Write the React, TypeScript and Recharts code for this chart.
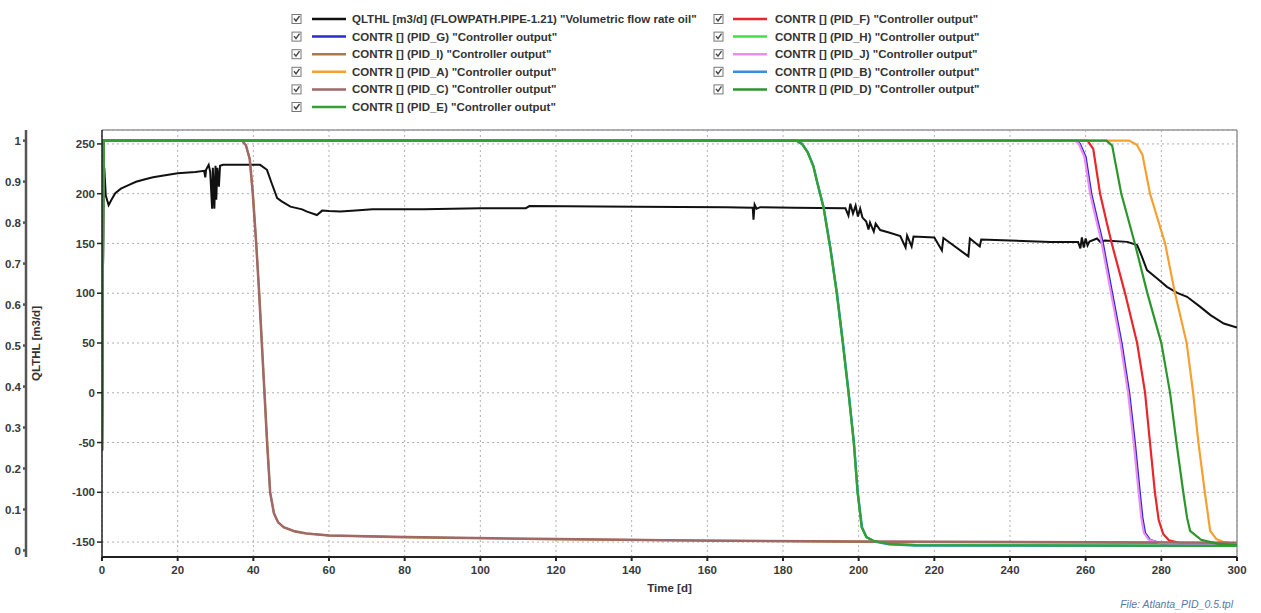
import React from "react";
import {
  LineChart,
  Line,
  XAxis,
  YAxis,
  CartesianGrid,
  ReferenceLine,
  Label,
} from "recharts";

// axis ticks
const timeTicks = [0, 20, 40, 60, 80, 100, 120, 140, 160, 180, 200, 220, 240, 260, 280, 300];
const flowTicks = [-150, -100, -50, 0, 50, 100, 150, 200, 250];
const outputTicks = [0, 0.1, 0.2, 0.3, 0.4, 0.5, 0.6, 0.7, 0.8, 0.9, 1];
const flowDomain = [-165, 264];
const outputDomain = [-0.016, 1.026];

// QLTHL [m3/d]: [time d, flow]
const qlthl: [number, number][] = [
  [0, 230], [0.3, 178], [0.6, 226], [1.0, 198], [1.75, 188.5], [2.5, 194], [3.5, 200.5],
  [5, 205], [7, 208.7], [9, 212], [11.4, 214.5], [13.5, 216.5], [15.9, 218], [20, 220.5],
  [24.7, 221.8], [27, 223], [27.3, 216.5], [27.5, 224], [28.2, 229], [28.6, 222], [29.1, 185],
  [29.3, 226], [29.7, 185], [30, 228], [30.2, 194], [30.5, 226], [30.9, 207], [31.2, 228],
  [32, 229], [36.6, 229], [41.8, 229], [43.6, 224], [44.9, 210], [46.3, 195.5], [47.6, 192],
  [49.8, 187], [52.9, 184.3], [54.2, 182], [56.8, 178.6], [58.2, 183], [60, 182.5], [63, 182],
  [67, 183], [71.5, 184.3], [85, 184.5], [100, 185.3], [112, 185.5], [113, 187.6], [141, 187],
  [165, 186.5], [172, 186], [172.2, 174], [172.5, 189], [173, 185], [174, 186.5], [183, 186],
  [196.5, 185.3], [197.3, 178], [197.8, 190], [198.5, 180], [199.2, 188], [199.8, 177],
  [200.4, 185], [201, 176], [202, 172], [202.6, 164], [203, 171], [204, 162], [204.5, 170],
  [205.7, 163.5], [208, 161], [211, 157.5], [212.4, 146], [212.8, 158], [214, 147], [214.5, 157],
  [220, 156], [222, 143], [222.4, 155.5], [229, 137], [229.4, 155], [232, 147], [232.4, 154],
  [240, 153], [250.7, 151.6], [258, 151.6], [258.6, 145], [259, 156], [259.5, 146], [260, 155],
  [260.5, 148], [261, 152], [263, 155], [264, 151], [265, 153], [271, 151.6], [273.6, 148.4],
  [274.9, 136.6], [276.2, 123.2], [278.9, 114.9], [281.5, 106.4], [284.2, 100.4], [286.8, 96.4],
  [290.3, 86.3], [293, 78], [296.5, 69.6], [300, 65.5],
];

// controller outputs (0..1)
const pidC: [number, number][] = [
  [0, 0.244], [0.4, 1], [37, 1], [38, 0.989], [39, 0.956], [39.8, 0.873], [40.7, 0.752],
  [41.5, 0.628], [42.2, 0.506], [42.9, 0.385], [43.6, 0.263], [44.4, 0.142], [45.4, 0.091],
  [46.5, 0.069], [48, 0.057], [51, 0.047], [54, 0.042], [60, 0.037], [80, 0.033], [120, 0.028],
  [160, 0.024], [200, 0.022], [300, 0.019],
];
const pidI: [number, number][] = [
  [0, 0.244], [0.4, 1], [37.1, 1], [38.1, 0.988], [39.1, 0.955], [39.9, 0.872], [40.8, 0.75],
  [41.6, 0.627], [42.3, 0.505], [43, 0.384], [43.7, 0.262], [44.5, 0.141], [45.5, 0.09],
  [46.6, 0.068], [48.1, 0.056], [51, 0.046], [54, 0.041], [60, 0.036], [80, 0.032], [120, 0.027],
  [160, 0.024], [200, 0.021], [300, 0.018],
];
const pidE: [number, number][] = [
  [0, 0.244], [0.4, 1], [183.5, 1], [185, 0.992], [186.5, 0.972], [188, 0.938], [189, 0.899],
  [190.7, 0.837], [192.5, 0.737], [194.2, 0.628], [195.8, 0.506], [197.3, 0.385], [198.7, 0.263],
  [199.7, 0.142], [200.8, 0.057], [202, 0.033], [204, 0.023], [208, 0.016], [215, 0.013], [300, 0.011],
];
const pidB: [number, number][] = [
  [0, 0.244], [0.4, 1], [183.6, 1], [185.1, 0.992], [186.6, 0.971], [188.1, 0.937], [189.1, 0.898],
  [190.8, 0.836], [192.6, 0.736], [194.3, 0.627], [195.9, 0.505], [197.4, 0.384], [198.8, 0.262],
  [199.8, 0.141], [200.9, 0.056], [202.1, 0.032], [204, 0.022], [208, 0.015], [215, 0.012], [300, 0.011],
];
const pidH: [number, number][] = [
  [0, 0.244], [0.4, 1], [183.5, 1], [185, 0.992], [186.5, 0.972], [188, 0.938], [189, 0.899],
  [190.7, 0.837], [192.5, 0.737], [194.2, 0.628], [195.8, 0.506], [197.3, 0.385], [198.7, 0.263],
  [199.7, 0.142], [200.8, 0.057], [202, 0.033], [204, 0.023], [208, 0.016], [215, 0.013], [300, 0.011],
];
const pidG: [number, number][] = [
  [0, 0.244], [0.4, 1], [257.5, 1], [258.5, 0.992], [260, 0.96], [261.5, 0.87], [263, 0.81],
  [264.5, 0.752], [267, 0.628], [269.5, 0.506], [271.5, 0.385], [273, 0.263], [274.3, 0.142],
  [275, 0.08], [275.7, 0.043], [277, 0.026], [280, 0.017], [285, 0.014], [300, 0.012],
];
const pidJ: [number, number][] = [
  [0, 0.244], [0.4, 1], [257.2, 1], [258.2, 0.992], [259.7, 0.96], [261.2, 0.87], [262.7, 0.81],
  [264.2, 0.752], [266.7, 0.628], [269.2, 0.506], [271.2, 0.385], [272.7, 0.263], [274, 0.142],
  [274.7, 0.08], [275.4, 0.043], [276.7, 0.026], [280, 0.017], [285, 0.014], [300, 0.012],
];
const pidF: [number, number][] = [
  [0, 0.244], [0.4, 1], [260.5, 1], [262, 0.98], [263.8, 0.871], [265.5, 0.803], [266.9, 0.749],
  [270.4, 0.628], [273.6, 0.506], [275.7, 0.385], [277, 0.263], [278.3, 0.142], [279.3, 0.074],
  [280.5, 0.04], [282, 0.025], [285, 0.018], [300, 0.013],
];
const pidD: [number, number][] = [
  [0, 0.244], [0.4, 1], [265.5, 1], [267, 0.988], [269.4, 0.871], [273, 0.749], [276.3, 0.628],
  [280, 0.506], [282.3, 0.385], [284, 0.263], [285.8, 0.142], [286.8, 0.08], [287.6, 0.048],
  [290.5, 0.026], [295, 0.016], [300, 0.013],
];
const pidA: [number, number][] = [
  [0, 0.244], [0.4, 1], [271.5, 1], [273.5, 0.99], [275, 0.966], [277, 0.871], [279, 0.81],
  [281, 0.749], [283.6, 0.628], [286.7, 0.506], [288.4, 0.385], [289.8, 0.263], [291.5, 0.142],
  [292.9, 0.048], [294.5, 0.028], [296.3, 0.021], [300, 0.016],
];

const ctlLabel = (id: string) => `CONTR [] (${id}) "Controller output"`;

// draw order = legend order (row-major, two columns)
const series = [
  { id: "qlthl", name: 'QLTHL [m3/d] (FLOWPATH.PIPE-1.21) "Volumetric flow rate oil"', color: "#111111", axis: "flow", points: qlthl },
  { id: "F", name: ctlLabel("PID_F"), color: "#e8262b", axis: "out", points: pidF },
  { id: "G", name: ctlLabel("PID_G"), color: "#2a2ad8", axis: "out", points: pidG },
  { id: "H", name: ctlLabel("PID_H"), color: "#44dd44", axis: "out", points: pidH },
  { id: "I", name: ctlLabel("PID_I"), color: "#a57c4c", axis: "out", points: pidI },
  { id: "J", name: ctlLabel("PID_J"), color: "#f08cf0", axis: "out", points: pidJ },
  { id: "A", name: ctlLabel("PID_A"), color: "#f5a030", axis: "out", points: pidA },
  { id: "B", name: ctlLabel("PID_B"), color: "#3a8ee0", axis: "out", points: pidB },
  { id: "C", name: ctlLabel("PID_C"), color: "#a06868", axis: "out", points: pidC },
  { id: "D", name: ctlLabel("PID_D"), color: "#2c962c", axis: "out", points: pidD },
  { id: "E", name: ctlLabel("PID_E"), color: "#33a033", axis: "out", points: pidE },
];

const font = "'Liberation Sans', Arial, sans-serif";
const tickStyle = { fill: "#3a3a3a", fontSize: 11.5, fontWeight: "bold" as const, fontFamily: font };

function Check({ x, y }: { x: number; y: number }) {
  return (
    <g>
      <rect x={x} y={y - 4.5} width={9} height={9} fill="#fff" stroke="#777" strokeWidth={1} />
      <path d={`M${x + 2} ${y - 0.5} L${x + 4} ${y + 2} L${x + 7.5} ${y - 3}`} fill="none" stroke="#444" strokeWidth={1.4} />
    </g>
  );
}

function LegendBlock() {
  const cols = [
    { box: 292, line: 312, text: 352 },
    { box: 714, line: 733, text: 775 },
  ];
  return (
    <svg width={1261} height={120} style={{ position: "absolute", left: 0, top: 0 }}>
      {series.map((s, i) => {
        const c = cols[i % 2];
        const y = 19 + Math.floor(i / 2) * 17.6;
        return (
          <g key={s.id}>
            <Check x={c.box} y={y} />
            <line x1={c.line} x2={c.line + 34} y1={y} y2={y} stroke={s.color} strokeWidth={2.5} />
            <text x={c.text} y={y + 4} fontSize={11.5} fontWeight="bold" fontFamily={font} fill="#333">
              {s.name}
            </text>
          </g>
        );
      })}
    </svg>
  );
}

export default function App() {
  return (
    <div style={{ position: "absolute", left: 0, top: 0, width: 1261, height: 613, background: "#fff" }}>
      <LegendBlock />
      <LineChart width={1261} height={613} margin={{ top: 130, right: 24, bottom: 16, left: 0 }}>
        <CartesianGrid yAxisId="flow" stroke="#b0b0b0" strokeDasharray="2 3" />
        <XAxis
          type="number"
          dataKey="t"
          domain={[0, 300]}
          ticks={timeTicks}
          allowDataOverflow
          height={40}
          stroke="#222"
          strokeWidth={2}
          tickSize={4}
          tickMargin={5}
          tick={tickStyle}
        >
          <Label value="Time [d]" position="insideBottom" offset={5} style={{ fontSize: 11.5, fontWeight: "bold", fontFamily: font, fill: "#333" }} />
        </XAxis>
        <YAxis
          yAxisId="flow"
          type="number"
          domain={flowDomain}
          ticks={flowTicks}
          allowDataOverflow
          width={76}
          stroke="#222"
          strokeWidth={1.5}
          tickSize={5}
          tick={tickStyle}
        >
          <Label
            value="QLTHL [m3/d]"
            angle={-90}
            position="insideLeft"
            offset={10}
            style={{ textAnchor: "middle", fontSize: 11.5, fontWeight: "bold", fontFamily: font, fill: "#333" }}
          />
        </YAxis>
        <YAxis
          yAxisId="out"
          type="number"
          domain={outputDomain}
          ticks={outputTicks}
          allowDataOverflow
          width={26}
          stroke="#555"
          strokeWidth={2.5}
          tickSize={3}
          tickMargin={2}
          tick={tickStyle}
        />
        <ReferenceLine yAxisId="flow" y={flowDomain[1]} stroke="#999" strokeWidth={1.5} />
        <ReferenceLine yAxisId="flow" x={300} stroke="#999" strokeWidth={1.5} />
        {series.map((s) => (
          <Line
            key={s.id}
            yAxisId={s.axis}
            data={s.points.map(([t, v]) => ({ t, v }))}
            dataKey="v"
            name={s.name}
            type="linear"
            stroke={s.color}
            strokeWidth={s.id === "qlthl" ? 2 : 2.2}
            dot={false}
            isAnimationActive={false}
          />
        ))}
      </LineChart>
      <div
        style={{
          position: "absolute",
          right: 28,
          top: 598,
          fontSize: 10.5,
          fontStyle: "italic",
          fontFamily: font,
          color: "#5a78a8",
        }}
      >
        File: Atlanta_PID_0.5.tpl
      </div>
    </div>
  );
}
